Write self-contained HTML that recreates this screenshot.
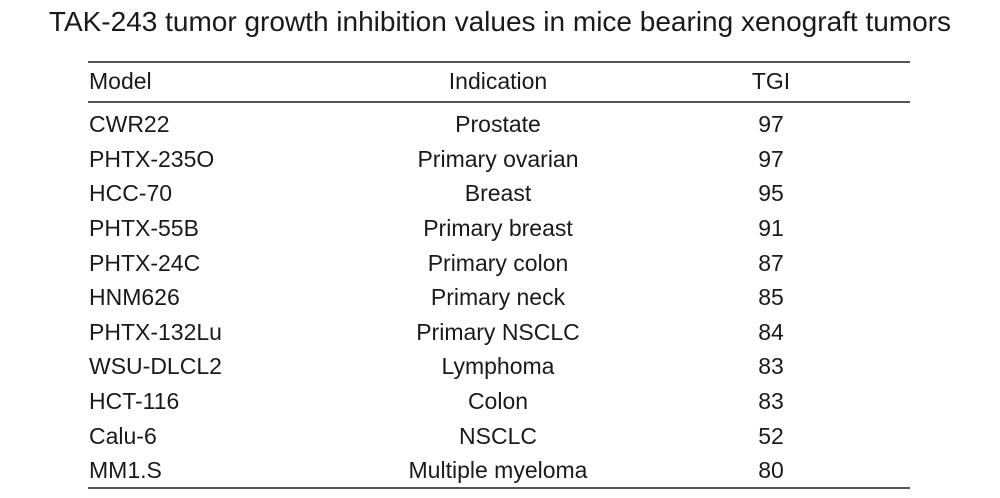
<!DOCTYPE html>
<html><head><style>
body{margin:0;width:1000px;height:498px;background:#fff;font-family:"Liberation Sans",Arial,sans-serif;color:#1a1a1a;position:relative;overflow:hidden}
.t{position:absolute;left:0;width:1000px;top:6px;text-align:center;font-size:28px;line-height:32px}
.l{position:absolute;left:88px;width:822px;height:1.5px;background:#555}
.r{position:absolute;left:0;width:1000px;font-size:23px;height:26px;line-height:26px}
.r span{position:absolute}
.a{left:89px}
.b{left:348px;width:300px;text-align:center}
.c{left:721px;width:100px;text-align:center}
</style></head><body>
<div class="t">TAK-243 tumor growth inhibition values in mice bearing xenograft tumors</div>
<div class="l" style="top:61px"></div>
<div class="l" style="top:101px"></div>
<div class="l" style="top:487px"></div>
<div class="r" style="top:68px"><span class="a">Model</span><span class="b">Indication</span><span class="c">TGI</span></div>
<div class="r" style="top:111px"><span class="a">CWR22</span><span class="b">Prostate</span><span class="c">97</span></div>
<div class="r" style="top:146px"><span class="a">PHTX-235O</span><span class="b">Primary ovarian</span><span class="c">97</span></div>
<div class="r" style="top:180px"><span class="a">HCC-70</span><span class="b">Breast</span><span class="c">95</span></div>
<div class="r" style="top:215px"><span class="a">PHTX-55B</span><span class="b">Primary breast</span><span class="c">91</span></div>
<div class="r" style="top:250px"><span class="a">PHTX-24C</span><span class="b">Primary colon</span><span class="c">87</span></div>
<div class="r" style="top:284px"><span class="a">HNM626</span><span class="b">Primary neck</span><span class="c">85</span></div>
<div class="r" style="top:319px"><span class="a">PHTX-132Lu</span><span class="b">Primary NSCLC</span><span class="c">84</span></div>
<div class="r" style="top:353px"><span class="a">WSU-DLCL2</span><span class="b">Lymphoma</span><span class="c">83</span></div>
<div class="r" style="top:388px"><span class="a">HCT-116</span><span class="b">Colon</span><span class="c">83</span></div>
<div class="r" style="top:423px"><span class="a">Calu-6</span><span class="b">NSCLC</span><span class="c">52</span></div>
<div class="r" style="top:457px"><span class="a">MM1.S</span><span class="b">Multiple myeloma</span><span class="c">80</span></div>
</body></html>
